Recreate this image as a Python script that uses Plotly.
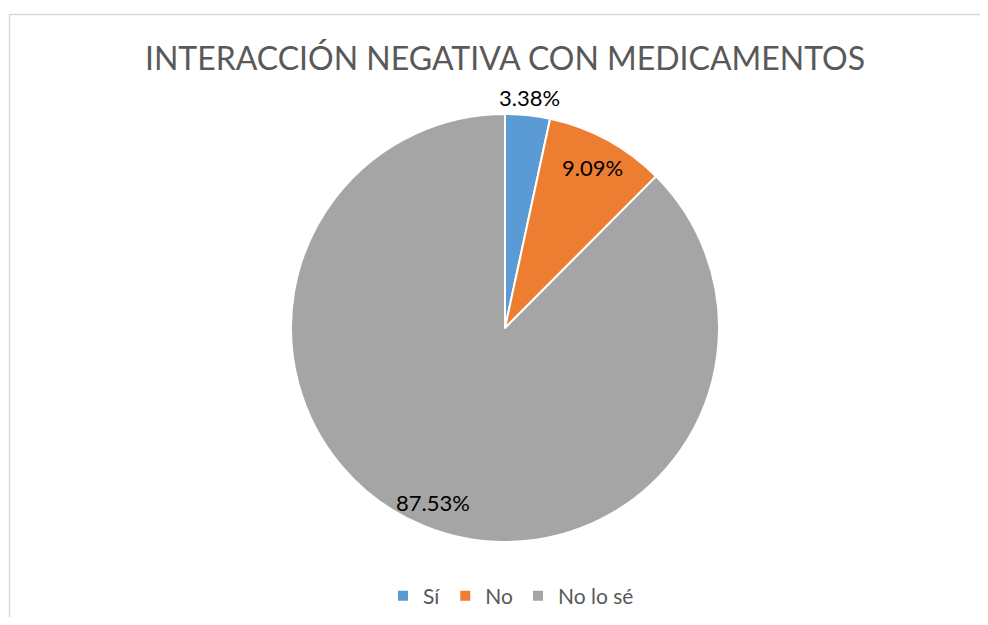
import math
import plotly.graph_objects as go

# Survey answers
labels = ["Sí", "No", "No lo sé"]
values = [3.38, 9.09, 87.53]
text_labels = ["3.38%", "9.09%", "87.53%"]

colors = ["#5B9BD5", "#ED7D31", "#A5A5A5"]

# page has an 8px body margin, so the figure is a bit smaller and positions are shifted
OFF = 8
W, H = 988 - OFF, 625 - 2 * OFF
cx, cy, r = 505 - OFF, 328 - OFF, 214  # pie centre and radius in figure pixels


def px_x(x):
    return (x - OFF) / W


def px_y(y):
    return 1 - (y - OFF) / H


fig = go.Figure()

fig.add_trace(go.Pie(
    labels=labels,
    values=values,
    sort=False,
    direction="clockwise",
    rotation=0,
    textinfo="none",
    hoverinfo="label+percent",
    marker=dict(colors=colors, line=dict(color="white", width=2)),
    domain=dict(x=[(cx - r) / W, (cx + r) / W], y=[1 - (cy + r) / H, 1 - (cy - r) / H]),
))

# Data labels placed along each slice's mid angle (Excel-style)
radial = [1.085, 0.855, 0.88]
total = sum(values)
cum = 0
for v, t, k in zip(values, text_labels, radial):
    mid = (cum + v / 2) / total * 2 * math.pi
    cum += v
    px = cx + k * r * math.sin(mid)
    py = cy - k * r * math.cos(mid)
    fig.add_annotation(
        x=px / W, y=1 - py / H, xref="paper", yref="paper",
        text=t, showarrow=False,
        font=dict(family="Lato", size=22, color="#000000"),
        xanchor="center", yanchor="middle",
    )

fig.update_layout(
    width=W,
    height=H,
    margin=dict(l=0, r=0, t=0, b=0),
    paper_bgcolor="white",
    plot_bgcolor="white",
    title=dict(
        text="INTERACCIÓN NEGATIVA CON MEDICAMENTOS",
        font=dict(family="Lato", size=32, color="#595959"),
        x=px_x(505), xanchor="center",
        y=px_y(59), yanchor="middle",
    ),
    showlegend=True,
    legend=dict(
        orientation="h",
        x=px_x(511), xanchor="center",
        y=px_y(596), yanchor="middle",
        font=dict(family="Lato", size=21, color="#595959"),
        traceorder="normal",
    ),
    shapes=[dict(
        type="rect", xref="paper", yref="paper",
        x0=px_x(9.5), x1=1.05, y0=-0.05, y1=px_y(14.5),
        line=dict(color="#D9D9D9", width=1.5),
        fillcolor="rgba(0,0,0,0)",
        layer="below",
    )],
)

fig.write_html("out.html")
